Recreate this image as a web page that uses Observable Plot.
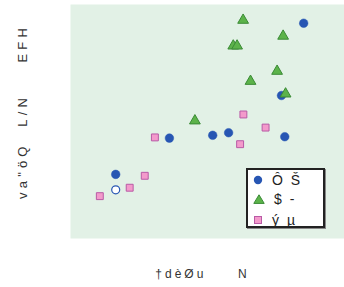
<!DOCTYPE html>
<html>
<head>
<meta charset="utf-8">
<script src="https://cdn.jsdelivr.net/npm/d3@7"></script>
<script src="https://cdn.jsdelivr.net/npm/@observablehq/plot@0.6"></script>
<style>
  html, body { margin: 0; padding: 0; background: #fff; }
  #wrap { position: relative; width: 344px; height: 287px; font-family: "Liberation Sans", Arial, sans-serif; }
  #legend { position: absolute; left: 246px; top: 168px; width: 75px; height: 56px; border: 2px solid #222;
            background: #fff; box-shadow: 1px 1px 0 #888; }
  .row { position: absolute; left: 0; height: 20px; display: flex; align-items: center; }
  .row svg { margin-left: 5px; }
  .row span { margin-left: 9px; font-size: 14px; letter-spacing: 2px; color: #222; white-space: pre; }
</style>
</head>
<body>
<div id="wrap"></div>
<script>
// Series names (legend labels)
const seriesNames = ["Ô Š", "$ -", "ý µ"];
// Axis labels
const xLabel = "†dèØu     N";
const yLabel = "va\"öQ  L/N    EFH";

// Circle series (filled)
const circleX = [8.51, 7.70, 3.61, 5.19, 5.77, 7.82, 1.65];
const circleY = [9.20, 6.11, 4.29, 4.41, 4.52, 4.35, 2.74];
// Circle series (hollow point)
const hollowX = [1.65];
const hollowY = [2.08];
// Triangle series
const triX = [6.30, 7.76, 5.94, 6.08, 7.54, 6.57, 7.85, 4.54];
const triY = [9.33, 8.65, 8.23, 8.23, 7.15, 6.72, 6.18, 5.03];
// Square series
const sqX = [6.31, 7.12, 3.08, 6.19, 2.71, 2.16, 1.07];
const sqY = [5.30, 4.74, 4.32, 4.03, 2.68, 2.17, 1.81];

const blue = "#2756b3", green = "#5cb34a", greenStroke = "#3a8a35", pink = "#f39acb", pinkStroke = "#b95aa6";
const bg = "#e2f1e6";

const circles = circleX.map((x, i) => ({x, y: circleY[i]}));
const hollow = hollowX.map((x, i) => ({x, y: hollowY[i]}));
const tris = triX.map((x, i) => ({x, y: triY[i]}));
const sqs = sqX.map((x, i) => ({x, y: sqY[i]}));

const chart = Plot.plot({
  width: 344, height: 287,
  marginLeft: 70, marginRight: 0, marginTop: 4, marginBottom: 49,
  x: {domain: [0, 10], axis: null},
  y: {domain: [0, 10], axis: null},
  style: {background: "#fff", fontFamily: "Liberation Sans, Arial, sans-serif", whiteSpace: "pre"},
  marks: [
    Plot.frame({fill: bg, stroke: "none"}),
    Plot.dot(sqs, {x: "x", y: "y", symbol: "square", r: 3.9, fill: pink, stroke: pinkStroke, strokeWidth: 1}),
    Plot.dot(circles, {x: "x", y: "y", r: 4.3, fill: blue, stroke: blue, strokeWidth: 0.5}),
    Plot.dot(hollow, {x: "x", y: "y", r: 4, fill: "#fff", stroke: blue, strokeWidth: 1.2}),
    Plot.dot(tris, {x: "x", y: "y", symbol: "triangle", r: 4, fill: green, stroke: greenStroke, strokeWidth: 1}),
    Plot.text([xLabel], {frameAnchor: "bottom", dy: 36, dx: -5, fontSize: 12, fill: "#333", lineAnchor: "middle", textAnchor: "middle"}),
    Plot.text([yLabel], {frameAnchor: "left", dx: -48, dy: -10, rotate: -90, fontSize: 13, fill: "#333", lineAnchor: "middle", textAnchor: "middle"})
  ]
});
const texts = chart.querySelectorAll("text");
texts.forEach(t => { t.setAttribute("xml:space", "preserve"); t.style.whiteSpace = "pre"; });
texts[0].setAttribute("letter-spacing", "3");
texts[1].setAttribute("letter-spacing", "4.2");

const wrap = document.getElementById("wrap");
wrap.appendChild(chart);

// Legend
const legend = document.createElement("div");
legend.id = "legend";
const swatches = [
  `<svg width="10" height="10"><circle cx="5" cy="5" r="4.2" fill="${blue}"/></svg>`,
  `<svg width="12" height="10"><path d="M6,0.8L11.2,9.4L0.8,9.4Z" fill="${green}" stroke="${greenStroke}"/></svg>`,
  `<svg width="10" height="10"><rect x="1.5" y="1.5" width="7" height="7" fill="${pink}" stroke="${pinkStroke}"/></svg>`
];
const tops = [0, 19, 40];
seriesNames.forEach((name, i) => {
  const row = document.createElement("div");
  row.className = "row";
  row.style.top = tops[i] + "px";
  row.innerHTML = swatches[i] + `<span>${name}</span>`;
  legend.appendChild(row);
});
wrap.appendChild(legend);
</script>
</body>
</html>
